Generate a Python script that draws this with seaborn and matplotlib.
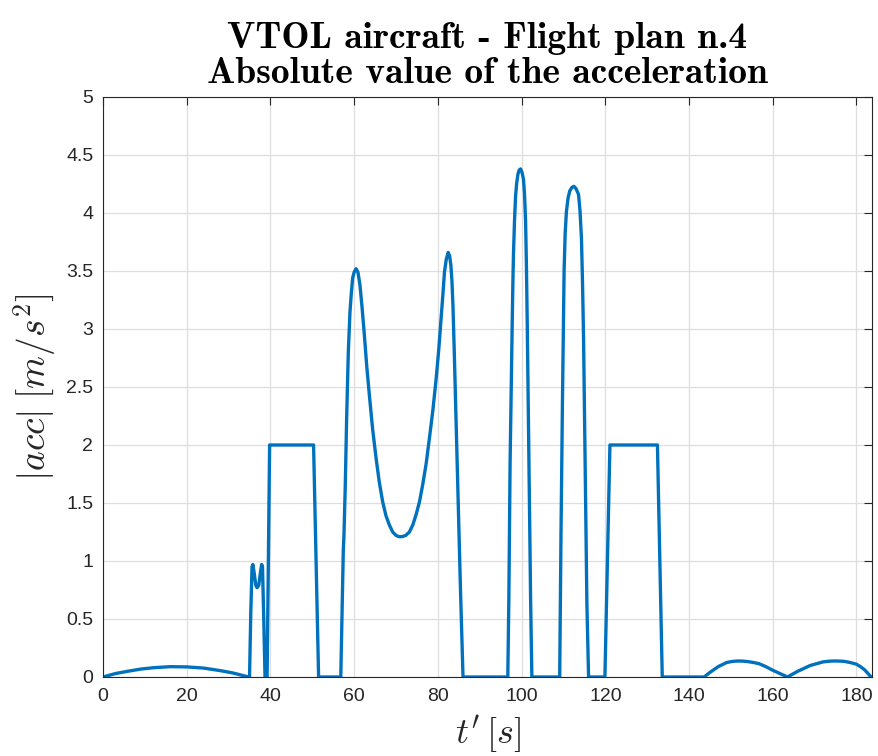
import numpy as np
import pandas as pd
import matplotlib
matplotlib.use("Agg")
import matplotlib.pyplot as plt
import seaborn as sns
from matplotlib.ticker import FormatStrFormatter

# --- acceleration magnitude, sampled along the flight plan -----------------
# take-off climb (slow arc)
t_climb = [0.0, 3.0, 6.0, 9.0, 12.0, 16.0, 20.0, 24.0, 28.0, 31.0, 34.8]
a_climb = [0.0, 0.030, 0.050, 0.068, 0.080, 0.089, 0.087, 0.077, 0.055, 0.035, 0.0]

# transition double bump, then constant-acceleration block
t_trans = [35.0, 35.3, 35.6, 35.8, 36.1, 36.5, 36.8, 37.2, 37.6, 37.9, 38.1, 38.4, 38.7,
           39.2, 39.8, 50.3, 51.5, 56.8]
a_trans = [0.0, 0.55, 0.95, 0.97, 0.90, 0.79, 0.77, 0.79, 0.90, 0.97, 0.95, 0.50, 0.0,
           0.0, 2.0, 2.0, 0.0, 0.0]

# cruise manoeuvre with two lobes
t_man1 = [57.4, 57.56, 57.88, 58.2, 58.4, 58.6, 58.8, 59.0, 59.3, 59.64, 60.0, 60.44,
          60.9, 61.38, 61.9, 62.43, 63.0, 63.63, 64.4, 65.22, 66.0, 66.81, 67.6, 68.41,
          69.2, 70.01, 70.7, 71.44, 72.3, 73.19, 74.0, 74.79, 75.6, 76.38, 77.2, 77.98,
          78.8, 79.58, 80.2, 80.77, 81.2, 81.57, 82.0, 82.45, 82.8, 83.1,
          83.35, 83.6, 83.9, 84.2, 84.5, 84.8, 85.1, 85.4, 85.7, 86.0]
a_man1 = [1.09, 1.22, 1.66, 2.23, 2.52, 2.80, 2.98, 3.15, 3.30, 3.44, 3.49, 3.52,
          3.49, 3.38, 3.18, 2.95, 2.68, 2.43, 2.14, 1.89, 1.68, 1.51, 1.39, 1.31,
          1.25, 1.22, 1.21, 1.21, 1.22, 1.25, 1.31, 1.40, 1.51, 1.66, 1.84, 2.06,
          2.30, 2.57, 2.82, 3.09, 3.30, 3.49, 3.60, 3.66, 3.63, 3.55,
          3.42, 3.20, 2.82, 2.40, 1.98, 1.55, 1.15, 0.75, 0.37, 0.0]

# first sharp turn
t_turn1 = [96.7, 96.95, 97.25, 97.5, 97.75, 97.9, 98.05, 98.3, 98.55, 98.8, 99.1,
           99.4, 99.75, 100.1, 100.45, 100.7, 100.95, 101.15, 101.35, 101.55, 101.75,
           101.95, 102.15, 102.45]
a_turn1 = [0.0, 0.67, 1.85, 2.47, 3.04, 3.37, 3.64, 3.93, 4.14, 4.25, 4.33,
           4.37, 4.38, 4.35, 4.29, 4.16, 3.93, 3.55, 3.04, 2.45, 1.85,
           1.26, 0.67, 0.0]

# second sharp turn
t_turn2 = [109.1, 109.4, 109.75, 110.15, 110.4, 110.7, 111.1, 111.5, 112.0, 112.5,
           113.0, 113.6, 113.95, 114.3, 114.55, 114.8, 115.0, 115.2, 115.4, 115.6, 116.0]
a_turn2 = [0.0, 1.20, 2.35, 3.50, 3.82, 4.01, 4.13, 4.19, 4.22, 4.23,
           4.21, 4.16, 4.02, 3.78, 3.40, 2.92, 2.35, 1.77, 1.20, 0.62, 0.0]

# deceleration block
t_decel = [119.9, 121.1, 132.45, 133.6, 143.6]
a_decel = [0.0, 2.0, 2.0, 0.0, 0.0]

# descent and landing arcs
t_land = [145.0, 147.0, 149.0, 150.3, 151.6, 152.8, 154.0, 155.4, 156.7, 158.3, 159.9,
          161.7, 163.5, 166.0, 169.0, 172.0, 173.4, 174.7, 176.0, 177.0, 178.5, 180.0,
          181.0, 182.0, 183.5]
a_land = [0.040, 0.090, 0.125, 0.134, 0.138, 0.137, 0.133, 0.125, 0.115, 0.090, 0.060,
          0.030, 0.0, 0.050, 0.100, 0.130, 0.136, 0.138, 0.137, 0.135, 0.125, 0.110,
          0.088, 0.060, 0.0]

t_all = t_climb + t_trans + t_man1 + t_turn1 + t_turn2 + t_decel + t_land
a_all = a_climb + a_trans + a_man1 + a_turn1 + a_turn2 + a_decel + a_land
df = pd.DataFrame({"t": t_all, "acc": a_all})

x_ticks = list(range(0, 181, 20))
y_ticks = [0, 0.5, 1, 1.5, 2, 2.5, 3, 3.5, 4, 4.5, 5]

# --- styling -----------------------------------------------------------------
sns.set_style("white")
plt.rcParams["font.family"] = ["Liberation Sans", "DejaVu Sans"]
plt.rcParams["mathtext.fontset"] = "cm"

axis_col = "#262626"
fig = plt.figure(figsize=(8.79, 7.56), dpi=100)
ax = fig.add_axes([0.1172, 0.1045, 0.8748, 0.7672])

sns.lineplot(data=df, x="t", y="acc", ax=ax, sort=False, estimator=None,
             color="#0072BD", linewidth=2.4)

ax.set_xlim(0, 183.7)
ax.set_ylim(0, 5)
ax.set_xticks(x_ticks)
ax.set_yticks(y_ticks)
ax.yaxis.set_major_formatter(FormatStrFormatter("%g"))

ax.grid(True, color="#dedede", linewidth=0.9)
ax.set_axisbelow(True)
for s in ax.spines.values():
    s.set_visible(True)
    s.set_color(axis_col)
    s.set_linewidth(0.8)

ax.tick_params(axis="both", which="both", direction="in", length=5.5, width=0.8,
               colors=axis_col, labelsize=14, top=True, right=True, pad=7)
ax.tick_params(axis="x", pad=8)

ax.set_xlabel(r"$t' \, [s]$", fontsize=26, color=axis_col, labelpad=6)
ax.set_ylabel(r"$|acc| \; [m/s^2]$", fontsize=27, color=axis_col, labelpad=6)
ax.set_title("VTOL aircraft - Flight plan n.4\nAbsolute value of the acceleration",
             fontfamily="cmb10", fontsize=27, color="black", pad=10,
             linespacing=1.08)

fig.savefig("out.png", dpi=100)
